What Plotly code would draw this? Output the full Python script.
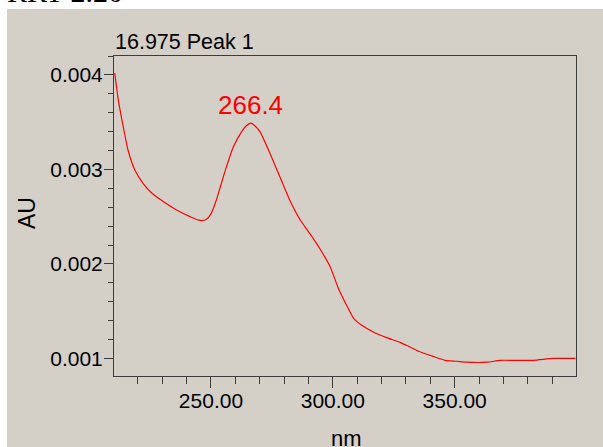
import plotly.graph_objects as go

wavelength_nm = [210.5, 212, 214, 216, 218.8, 222.2, 225.7, 230.4, 235.9, 241.4, 245.5, 248, 250, 252, 254, 256,
                 259.2, 262.6, 264.4, 266.4, 268.1, 270.1, 274.2, 278.3, 282.4, 286.5, 290.6, 294.7, 298.9, 302.3,
                 305.7, 308.4, 311.9, 316.6, 322.1, 327.6, 331.7, 335.8, 341.3, 346.1, 350.9, 355, 363.2, 368.6,
                 374.1, 382.3, 390.5, 399.6]
absorbance_au = [0.00402, 0.00373, 0.00345, 0.00320, 0.00299, 0.00285, 0.00275, 0.00266, 0.00257, 0.00250,
                 0.00246, 0.00247, 0.00253, 0.00266, 0.00283, 0.00300, 0.00324, 0.00340, 0.00346, 0.00349,
                 0.00346, 0.00340, 0.00317, 0.00292, 0.00267, 0.00247, 0.00232, 0.00216, 0.00197, 0.00174,
                 0.00156, 0.00143, 0.00135, 0.00128, 0.00122, 0.00117, 0.00112, 0.00107, 0.00102, 0.00098,
                 0.00097, 0.00096, 0.00096, 0.00098, 0.00098, 0.00098, 0.00100, 0.00100]
x_ticks = [250, 300, 350]
x_tick_labels = ["250.00", "300.00", "350.00"]
y_ticks = [0.001, 0.002, 0.003, 0.004]
y_tick_labels = ["0.001", "0.002", "0.003", "0.004"]
peak_label = "266.4"
peak_x = 266.4
chart_title = "16.975 Peak 1"
page_title = "RRT 2.20"

BEIGE = "#d4d0c8"
AXC = "#3c3c3c"
FONT = "Liberation Sans, Arial, sans-serif"

W, H = 603, 447
L, R, T, B = 114, 27, 56, 71
pw, ph = W - L - R, H - T - B

def px(x):
    return (x - L) / pw

def py(y):
    return (H - B - y) / ph

fig = go.Figure()
fig.add_trace(go.Scatter(x=wavelength_nm, y=absorbance_au, mode="lines",
                         line=dict(color="#ff0000", width=1.2, shape="spline", smoothing=0.6),
                         hoverinfo="skip", showlegend=False))

fig.update_layout(
    width=W, height=H,
    margin=dict(l=L, r=R, t=T, b=B),
    paper_bgcolor="white", plot_bgcolor=BEIGE,
    font=dict(family=FONT, size=21, color="black"),
    showlegend=False,
    xaxis=dict(range=[210.2, 399.8], tickvals=x_ticks, ticktext=x_tick_labels,
               ticks="outside", ticklen=11, tickwidth=1, tickcolor=AXC,
               showline=True, linecolor=AXC, linewidth=1, mirror=True,
               showgrid=False, zeroline=False, automargin=False, ticklabelstandoff=-5,
               tickfont=dict(size=21, family=FONT, color="black"),
               minor=dict(ticks="outside", ticklen=7, tickcolor=AXC, dtick=10, tick0=200, showgrid=False)),
    yaxis=dict(range=[0.000814, 0.0042], tickvals=y_ticks, ticktext=y_tick_labels,
               ticks="outside", ticklen=9, tickwidth=1, tickcolor=AXC,
               showline=True, linecolor=AXC, linewidth=1, mirror=True,
               showgrid=False, zeroline=False, automargin=False, ticklabelstandoff=-3,
               tickfont=dict(size=21, family=FONT, color="black"),
               minor=dict(ticks="outside", ticklen=5, tickcolor=AXC, dtick=0.0002, tick0=0, showgrid=False)),
    shapes=[dict(type="rect", xref="paper", yref="paper", x0=px(7), x1=px(W + 5), y0=py(9), y1=py(H + 5),
                 fillcolor=BEIGE, line=dict(width=0), layer="below")],
    annotations=[
        dict(text=page_title, xref="paper", yref="paper", x=px(5), y=py(10), xanchor="left", yanchor="bottom",
             showarrow=False, font=dict(family="Liberation Serif, Times New Roman, serif", size=30, color="black")),
        dict(text=chart_title, xref="paper", yref="paper", x=px(113), y=1.0, xanchor="left", yanchor="bottom",
             showarrow=False, font=dict(family=FONT, size=21.5, color="black")),
        dict(text=peak_label, xref="x", yref="paper", x=peak_x, y=py(121.5), xanchor="center", yanchor="bottom",
             showarrow=False, font=dict(family=FONT, size=26, color="#ff0000")),
        dict(text="AU", xref="paper", yref="paper", x=px(27), y=py(213), xanchor="center", yanchor="middle",
             textangle=-90, showarrow=False, font=dict(family=FONT, size=23, color="black")),
        dict(text="nm", xref="paper", yref="paper", x=px(346), y=py(453), xanchor="center", yanchor="bottom",
             showarrow=False, font=dict(family=FONT, size=22, color="black")),
    ],
)

fig.write_html("out.html", config={"displayModeBar": False},
               post_script="document.body.style.margin='0';document.body.style.overflow='hidden';")
